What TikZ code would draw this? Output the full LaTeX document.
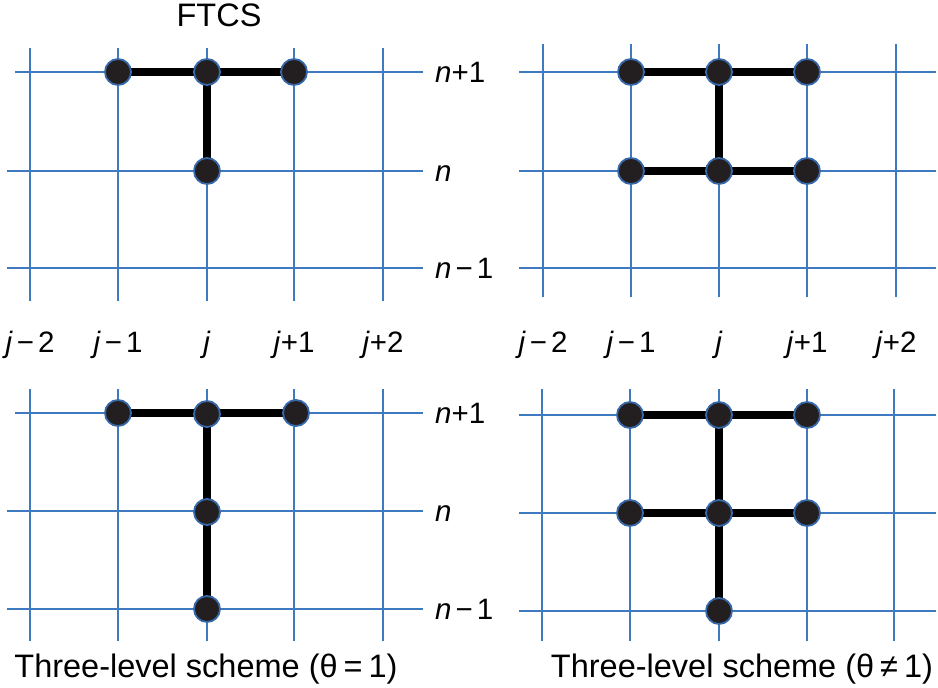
\documentclass[tikz,border=0pt]{standalone}
\usepackage{fontspec}
\setmainfont{Liberation Sans}
\usetikzlibrary{backgrounds}
\definecolor{gridblue}{RGB}{62,122,192}
\definecolor{dotfill}{RGB}{35,31,32}
\definecolor{dotrim}{RGB}{55,105,170}
\tikzset{
  gridline/.style={draw=gridblue, line width=1.6pt},
  dot/.style={circle, fill=dotfill, draw=dotrim, line width=1.8pt, minimum size=26pt, inner sep=0pt},
  link/.style={draw=black, line width=7.5pt},
  lab/.style={font=\fontsize{29.5}{32}\selectfont, inner sep=0pt},
  captext/.style={font=\fontsize{32.5}{36}\selectfont, inner sep=0pt},
}
\newcommand{\mn}{\kern4pt−\kern4pt}
\begin{document}
\begin{tikzpicture}[x=1pt, y=-1pt]
\useasboundingbox (0,0) rectangle (938,688);

% ---------- dots ----------
\node[dot] (a1) at (118,72) {};
\node[dot] (a2) at (207,72) {};
\node[dot] (a3) at (294,72) {};
\node[dot] (a4) at (207,171) {};

\node[dot] (b1) at (631,72) {};
\node[dot] (b2) at (719,72) {};
\node[dot] (b3) at (807,72) {};
\node[dot] (b4) at (631,171) {};
\node[dot] (b5) at (719,171) {};
\node[dot] (b6) at (807,171) {};

\node[dot] (c1) at (118,413) {};
\node[dot] (c2) at (207,414) {};
\node[dot] (c3) at (296,413) {};
\node[dot] (c4) at (207,512) {};
\node[dot] (c5) at (207,609) {};

\node[dot] (d1) at (630,415) {};
\node[dot] (d2) at (719,415) {};
\node[dot] (d3) at (807,415) {};
\node[dot] (d4) at (630,513) {};
\node[dot] (d5) at (719,513) {};
\node[dot] (d6) at (807,513) {};
\node[dot] (d7) at (719,611) {};

\begin{scope}[on background layer]
% ---------- grids ----------
% top-left
\foreach \x in {30,118,207,294,383} \draw[gridline] (\x,48) -- (\x,301);
\draw[gridline] (15,72) -- (423,72);
\foreach \y in {171,268} \draw[gridline] (7,\y) -- (423,\y);
% top-right
\foreach \x in {543,631,719,807,896} \draw[gridline] (\x,44) -- (\x,297);
\foreach \y in {72,171,268} \draw[gridline] (519,\y) -- (936,\y);
% bottom-left
\foreach \x in {30,118,207,294,383} \draw[gridline] (\x,389) -- (\x,641);
\draw[gridline] (15,413) -- (423,413);
\foreach \y in {511,609} \draw[gridline] (7,\y) -- (423,\y);
% bottom-right
\foreach \x in {542,630,719,807,894} \draw[gridline] (\x,389) -- (\x,641);
\foreach \y in {415,513,611} \draw[gridline] (519,\y) -- (936,\y);

% ---------- links ----------
\draw[link] (a1.center) -- (a2.center) -- (a3.center);
\draw[link] (a2.center) -- (a4.center);
\draw[link] (b1.center) -- (b2.center) -- (b3.center);
\draw[link] (b4.center) -- (b5.center) -- (b6.center);
\draw[link] (b2.center) -- (b5.center);
\draw[link] (c1.center) -- (c3.center);
\draw[link] (c2.center) -- (c4.center) -- (c5.center);
\draw[link] (d1.center) -- (d2.center) -- (d3.center);
\draw[link] (d4.center) -- (d5.center) -- (d6.center);
\draw[link] (d2.center) -- (d5.center) -- (d7.center);
\end{scope}

% ---------- labels ----------
\node[captext, anchor=base] (ftcs) at (219,27) {FTCS};

\node[lab, anchor=base west] (r1) at (435,82) {\textit{n}+1};
\node[lab, anchor=base west] (r2) at (435,181) {\textit{n}};
\node[lab, anchor=base west] (r3) at (435,278) {\textit{n}\mn 1};
\node[lab, anchor=base west] (r4) at (435,423) {\textit{n}+1};
\node[lab, anchor=base west] (r5) at (435,521) {\textit{n}};
\node[lab, anchor=base west] (r6) at (435,619) {\textit{n}\mn 1};

\node[lab, anchor=base] (l1) at (30,352) {\textit{j}\mn 2};
\node[lab, anchor=base] (l2) at (118,352) {\textit{j}\mn 1};
\node[lab, anchor=base] (l3) at (207,352) {\textit{j}};
\node[lab, anchor=base] (l4) at (294,352) {\textit{j}+1};
\node[lab, anchor=base] (l5) at (383,352) {\textit{j}+2};
\node[lab, anchor=base] (m1) at (543,352) {\textit{j}\mn 2};
\node[lab, anchor=base] (m2) at (631,352) {\textit{j}\mn 1};
\node[lab, anchor=base] (m3) at (719,352) {\textit{j}};
\node[lab, anchor=base] (m4) at (807,352) {\textit{j}+1};
\node[lab, anchor=base] (m5) at (896,352) {\textit{j}+2};

\node[captext, anchor=base] (cap1) at (206,677) {Three-level scheme (θ\kern6pt=\kern6pt1)};
\node[captext, anchor=base] (cap2) at (742,677) {Three-level scheme (θ\kern6pt≠\kern6pt1)};
\end{tikzpicture}
\end{document}
